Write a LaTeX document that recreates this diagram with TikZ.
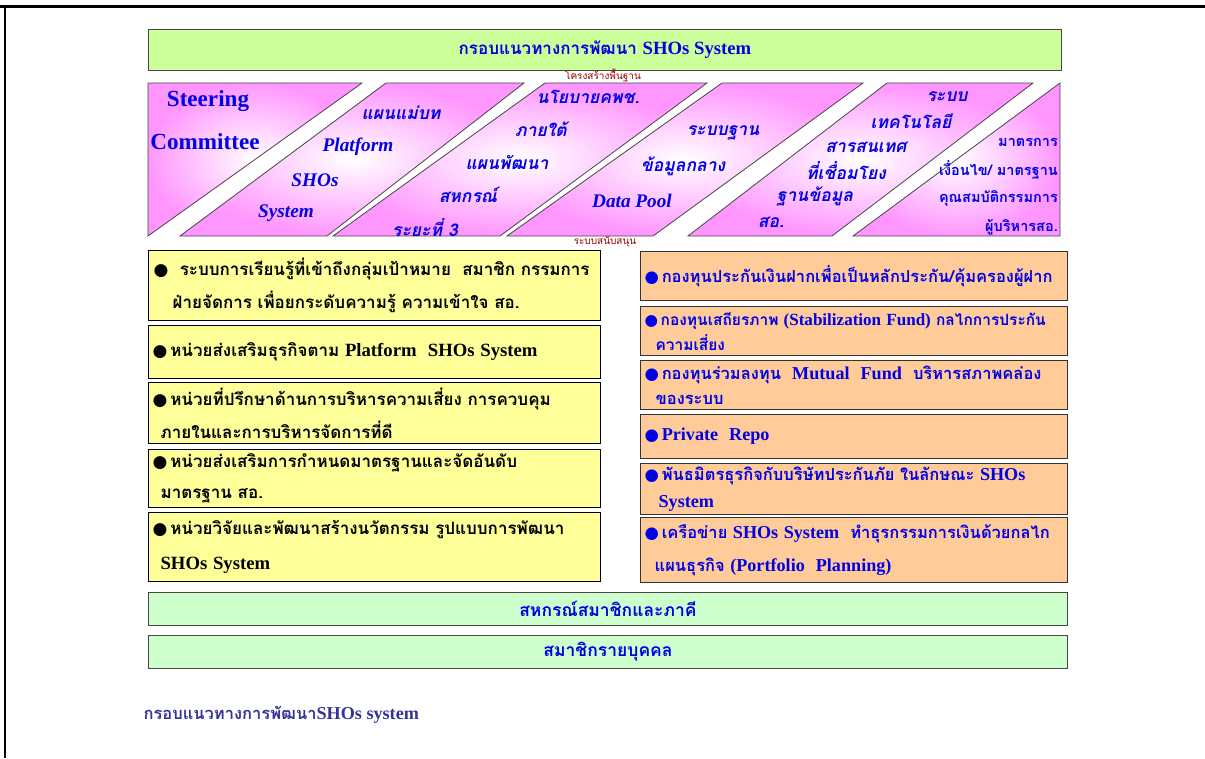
\documentclass[tikz,border=0pt]{standalone}
\usepackage{fontspec}
\setmainfont[Script=Thai]{Loma}
\newfontfamily\latinfont[Scale=1.1]{Liberation Serif}
\newfontfamily\symfont{DejaVu Sans}
\usepackage{tikz}
\usetikzlibrary{positioning,shapes,calc}
\definecolor{textblue}{RGB}{0,0,230}
\definecolor{edgegray}{RGB}{70,70,70}
\definecolor{headgreen}{RGB}{204,255,153}
\definecolor{basegreen}{RGB}{204,255,204}
\definecolor{bandpink}{RGB}{255,150,255}
\definecolor{unityellow}{RGB}{255,255,153}
\definecolor{fundpeach}{RGB}{255,204,153}
\definecolor{tagred}{RGB}{153,0,0}
\definecolor{captionblue}{RGB}{51,51,153}
\newcommand{\eng}[1]{{\latinfont #1}}
\newcommand{\dotmark}{{\symfont ●}}

\begin{document}
\begin{tikzpicture}[x=1pt, y=-1pt]
    \tikzstyle{headbar} = [rectangle, anchor=north west, draw=edgegray, line width=1pt, fill=headgreen, minimum width=913pt, minimum height=41pt, text=textblue, font=\bfseries\fontsize{17}{20}\selectfont]
    \tikzstyle{basebar} = [rectangle, anchor=north west, draw=edgegray, line width=1pt, fill=basegreen, minimum width=919pt, minimum height=33pt, text=textblue, font=\bfseries\fontsize{17.5}{20}\selectfont]
    \tikzstyle{pillar} = [draw=edgegray, line width=0.8pt, inner color=white, outer color=bandpink]
    \tikzstyle{pillartext} = [text=textblue, font=\bfseries\itshape\fontsize{17.5}{20}\selectfont, inner sep=0pt]
    \tikzstyle{ruletext} = [anchor=east, text=textblue, font=\bfseries\fontsize{14.5}{17}\selectfont, inner sep=0pt]
    \tikzstyle{unitbox} = [rectangle, anchor=north west, draw=black, line width=1.2pt, fill=unityellow, text width=444pt, inner xsep=4pt, align=left, font=\bfseries\fontsize{17}{33}\selectfont]
    \tikzstyle{fundbox} = [rectangle, anchor=north west, draw=black!80, line width=1.2pt, fill=fundpeach, text width=419pt, inner xsep=4pt, align=left, text=textblue, font=\bfseries\fontsize{16.5}{25}\selectfont]
    \tikzstyle{layertag} = [text=tagred, font=\fontsize{10}{12}\selectfont, inner sep=1pt]

    % page frame
    \useasboundingbox (0,0) rectangle (1205,758);
    \draw[line width=3pt] (0,6.5) -- (1205,6.5);
    \draw[line width=2pt] (5,6) -- (5,758);

    % top bar
    \node [headbar] (frame) at (148,29) {กรอบแนวทางการพัฒนา \eng{SHOs System}};

    % pillars
    \shadedraw [pillar] (148,83) -- (362,83) -- (148,236) -- cycle;
    \shadedraw [pillar] (386,83) -- (524,83) -- (327,236) -- (180,236) -- cycle;
    \shadedraw [pillar] (545,83) -- (707,83) -- (500,236) -- (333,236) -- cycle;
    \shadedraw [pillar] (722,83) -- (863,83) -- (653,236) -- (507,236) -- cycle;
    \shadedraw [pillar] (887,83) -- (1033,83) -- (832,236) -- (688,236) -- cycle;
    \shadedraw [pillar] (1060,83) -- (1060,236) -- (853,236) -- cycle;

    \node [layertag] (infra) at (603,75) {โครงสร้างพื้นฐาน};
    \node [layertag] (support) at (605,242) {ระบบสนับสนุน};

    % steering committee
    \node [pillartext, font=\bfseries\fontsize{21}{24}\selectfont] (steer1) at (208,101) {\eng{Steering}};
    \node [pillartext, font=\bfseries\fontsize{21}{24}\selectfont] (steer2) at (205,142) {\eng{Committee}};

    % master plan
    \node [pillartext] (plan1) at (401,113) {แผนแม่บท};
    \node [pillartext] (plan2) at (358,147) {\eng{Platform}};
    \node [pillartext] (plan3) at (315,180) {\eng{SHOs}};
    \node [pillartext] (plan4) at (286,213) {\eng{System}};

    % policy
    \node [pillartext] (policy1) at (588,97) {นโยบายคพช.};
    \node [pillartext] (policy2) at (541,129) {ภายใต้};
    \node [pillartext] (policy3) at (507,162) {แผนพัฒนา};
    \node [pillartext] (policy4) at (468,195) {สหกรณ์};
    \node [pillartext] (policy5) at (425,228) {ระยะที่ 3};

    % data pool
    \node [pillartext] (pool1) at (723,133) {ระบบฐาน};
    \node [pillartext] (pool2) at (683,166) {ข้อมูลกลาง};
    \node [pillartext] (pool3) at (632,201) {\eng{Data Pool}};

    % information technology
    \node [pillartext] (tech1) at (947,97) {ระบบ};
    \node [pillartext] (tech2) at (911,121) {เทคโนโลยี};
    \node [pillartext] (tech3) at (866,147) {สารสนเทศ};
    \node [pillartext] (tech4) at (846,171) {ที่เชื่อมโยง};
    \node [pillartext] (tech5) at (815,196) {ฐานข้อมูล};
    \node [pillartext] (tech6) at (771,222) {สอ.};

    % standards
    \node [ruletext] (rule1) at (1058,142) {มาตรการ};
    \node [ruletext] (rule2) at (1058,170) {เงื่อนไข/ มาตรฐาน};
    \node [ruletext] (rule3) at (1058,198) {คุณสมบัติกรรมการ};
    \node [ruletext] (rule4) at (1058,227) {ผู้บริหารสอ.};

    % support units
    \node [unitbox, minimum height=70pt] (learn) at (148,250) {\hspace*{1pt}\dotmark\ \ ระบบการเรียนรู้ที่เข้าถึงกลุ่มเป้าหมาย\ \ สมาชิก กรรมการ\\\hspace*{20pt}ฝ่ายจัดการ เพื่อยกระดับความรู้ ความเข้าใจ สอ.};
    \node [unitbox, minimum height=53pt] (promote) at (148,325) {\dotmark\,หน่วยส่งเสริมธุรกิจตาม \eng{Platform\ \ SHOs System}};
    \node [unitbox, minimum height=61pt] (advise) at (148,382) {\dotmark\,หน่วยที่ปรึกษาด้านการบริหารความเสี่ยง การควบคุม\\\hspace*{8pt}ภายในและการบริหารจัดการที่ดี};
    \node [unitbox, minimum height=58pt, font=\bfseries\fontsize{17}{31}\selectfont] (rating) at (148,449) {\dotmark\,หน่วยส่งเสริมการกำหนดมาตรฐานและจัดอันดับ\\\hspace*{8pt}มาตรฐาน สอ.};
    \node [unitbox, minimum height=69pt, font=\bfseries\fontsize{17}{35}\selectfont] (research) at (148,512) {\dotmark\,หน่วยวิจัยและพัฒนาสร้างนวัตกรรม รูปแบบการพัฒนา\\\hspace*{8pt}\eng{SHOs System}};

    % financial tools
    \node [fundbox, minimum height=49pt] (deposit) at (640,251) {\dotmark\,กองทุนประกันเงินฝากเพื่อเป็นหลักประกัน/คุ้มครองผู้ฝาก};
    \node [fundbox, minimum height=49pt, font=\bfseries\fontsize{15.5}{25}\selectfont] (stable) at (640,306) {\mbox{\dotmark\,กองทุนเสถียรภาพ \eng{(Stabilization Fund)} กลไกการประกัน}\\\hspace*{11pt}ความเสี่ยง};
    \node [fundbox, minimum height=49pt] (mutual) at (640,360) {\dotmark\,กองทุนร่วมลงทุน\ \ \eng{Mutual\ \ Fund}\ \ บริหารสภาพคล่อง\\\hspace*{11pt}ของระบบ};
    \node [fundbox, minimum height=44pt] (repo) at (640,414) {\dotmark\,\eng{Private\ \ Repo}};
    \node [fundbox, minimum height=49pt, font=\bfseries\fontsize{16.5}{27}\selectfont] (insure) at (640,463) {\dotmark\,พันธมิตรธุรกิจกับบริษัทประกันภัย ในลักษณะ \eng{SHOs}\\\hspace*{14pt}\eng{System}};
    \node [fundbox, minimum height=65pt, font=\bfseries\fontsize{16.5}{33}\selectfont] (network) at (640,517) {\dotmark\,เครือข่าย \eng{SHOs System}\ \ ทำธุรกรรมการเงินด้วยกลไก\\\hspace*{10pt}แผนธุรกิจ \eng{(Portfolio\ \ Planning)}};

    % member layers
    \node [basebar] (partner) at (148,592) {สหกรณ์สมาชิกและภาคี};
    \node [basebar] (member) at (148,635) {สมาชิกรายบุคคล};

    % caption
    \node [anchor=west, text=captionblue, font=\bfseries\fontsize{16.5}{19}\selectfont] (caption) at (140,715) {กรอบแนวทางการพัฒนา\eng{SHOs system}};
\end{tikzpicture}
\end{document}
